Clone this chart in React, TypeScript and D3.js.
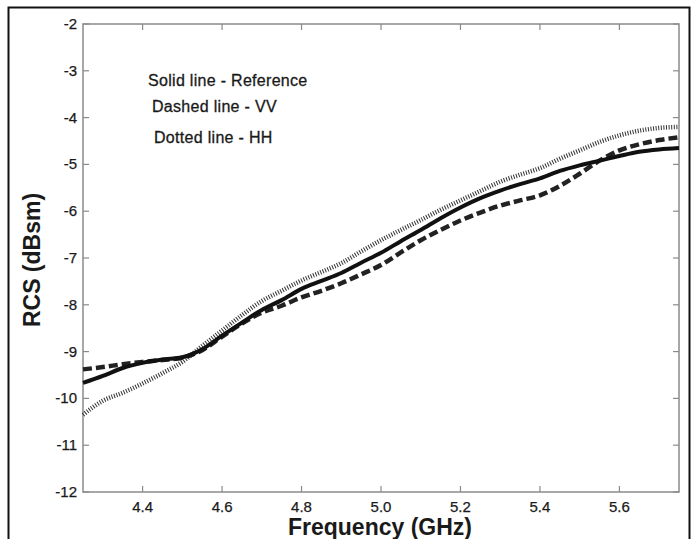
import React, { useEffect, useRef } from "react";
import * as d3 from "d3";

const freqs = [4.25, 4.3, 4.35, 4.4, 4.45, 4.5, 4.55, 4.6, 4.65, 4.7, 4.75, 4.8, 4.85, 4.9, 4.95, 5.0, 5.05, 5.1, 5.15, 5.2, 5.25, 5.3, 5.35, 5.4, 5.45, 5.5, 5.55, 5.6, 5.65, 5.7, 5.75];
const reference = [-9.67, -9.52, -9.35, -9.24, -9.17, -9.12, -8.95, -8.66, -8.38, -8.11, -7.9, -7.66, -7.49, -7.32, -7.1, -6.89, -6.64, -6.4, -6.15, -5.92, -5.72, -5.56, -5.42, -5.3, -5.14, -5.02, -4.92, -4.82, -4.73, -4.68, -4.65];
const vv = [-9.38, -9.33, -9.27, -9.22, -9.18, -9.13, -8.97, -8.68, -8.4, -8.17, -8.02, -7.84, -7.7, -7.54, -7.35, -7.15, -6.88, -6.62, -6.4, -6.2, -6.03, -5.88, -5.77, -5.66, -5.46, -5.2, -4.92, -4.7, -4.57, -4.48, -4.42];
const hh = [-10.35, -10.05, -9.88, -9.68, -9.46, -9.22, -8.88, -8.55, -8.22, -7.92, -7.7, -7.48, -7.3, -7.11, -6.86, -6.62, -6.4, -6.19, -5.97, -5.77, -5.57, -5.37, -5.22, -5.08, -4.88, -4.7, -4.52, -4.38, -4.28, -4.22, -4.2];
const xTicks = [4.4, 4.6, 4.8, 5.0, 5.2, 5.4, 5.6];
const yTicks = [-2, -3, -4, -5, -6, -7, -8, -9, -10, -11, -12];
const legendLines = ["Solid line - Reference", "Dashed line - VV", "Dotted line - HH"];

const W = 694, H = 539;
const L = 83, R = 679, T = 24, B = 492;

export default function App() {
  const ref = useRef<SVGSVGElement>(null);
  useEffect(() => {
    const svg = d3.select(ref.current);
    svg.selectAll("*").remove();
    const x = d3.scaleLinear().domain([4.25, 5.75]).range([L, R]);
    const y = d3.scaleLinear().domain([-12, -2]).range([B, T]);
    const font = "'Liberation Sans', Arial, sans-serif";

    svg.append("rect").attr("width", W).attr("height", H).attr("fill", "#fff");
    // outer frame
    svg.append("rect").attr("x", 8.5).attr("y", 7.5).attr("width", 681).attr("height", 560)
      .attr("fill", "none").attr("stroke", "#111").attr("stroke-width", 2);

    const axisColor = "#8a8a8a";
    const g = svg.append("g");
    xTicks.forEach(t => {
      g.append("line").attr("x1", x(t)).attr("x2", x(t)).attr("y1", B).attr("y2", B - 6).attr("stroke", axisColor).attr("stroke-width", 1.2);
      g.append("line").attr("x1", x(t)).attr("x2", x(t)).attr("y1", T).attr("y2", T + 6).attr("stroke", axisColor).attr("stroke-width", 1.2);
      g.append("text").attr("x", x(t)).attr("y", B + 20).attr("text-anchor", "middle")
        .attr("font-family", font).attr("font-size", 15).attr("fill", "#1a1a1a")
        .attr("stroke", "#1a1a1a").attr("stroke-width", 0.25).text(d3.format(".1f")(t));
    });
    yTicks.forEach(t => {
      g.append("line").attr("x1", L).attr("x2", L + 6).attr("y1", y(t)).attr("y2", y(t)).attr("stroke", axisColor).attr("stroke-width", 1.2);
      g.append("line").attr("x1", R).attr("x2", R - 6).attr("y1", y(t)).attr("y2", y(t)).attr("stroke", axisColor).attr("stroke-width", 1.2);
      g.append("text").attr("x", L - 6).attr("y", y(t) + 5).attr("text-anchor", "end")
        .attr("font-family", font).attr("font-size", 15).attr("fill", "#1a1a1a")
        .attr("stroke", "#1a1a1a").attr("stroke-width", 0.25).text(String(t));
    });
    g.append("rect").attr("x", L).attr("y", T).attr("width", R - L).attr("height", B - T)
      .attr("fill", "none").attr("stroke", axisColor).attr("stroke-width", 1.5);

    const line = d3.line<number>().x((_, i) => x(freqs[i])).y(d => y(d)).curve(d3.curveMonotoneX);
    svg.append("path").attr("d", line(hh)!).attr("fill", "none").attr("stroke", "#333")
      .attr("stroke-width", 4.5).attr("stroke-dasharray", "1,1.6");
    svg.append("path").attr("d", line(vv)!).attr("fill", "none").attr("stroke", "#222")
      .attr("stroke-width", 4.5).attr("stroke-dasharray", "9,4");
    svg.append("path").attr("d", line(reference)!).attr("fill", "none").attr("stroke", "#111")
      .attr("stroke-width", 4);

    const lx = [148, 152, 154];
    const ly = [86, 112, 143];
    legendLines.forEach((s, i) => {
      svg.append("text").attr("x", lx[i]).attr("y", ly[i]).attr("font-family", font)
        .attr("font-size", 16).attr("letter-spacing", 0.3).attr("fill", "#1a1a1a")
        .attr("stroke", "#1a1a1a").attr("stroke-width", 0.3).text(s);
    });

    svg.append("text").attr("x", 380).attr("y", 535).attr("text-anchor", "middle")
      .attr("font-family", font).attr("font-size", 23).attr("font-weight", "bold").attr("fill", "#1a1a1a")
      .text("Frequency (GHz)");
    svg.append("text").attr("transform", "translate(40,260) rotate(-90)").attr("text-anchor", "middle")
      .attr("font-family", font).attr("font-size", 23).attr("font-weight", "bold").attr("fill", "#1a1a1a")
      .text("RCS (dBsm)");
  }, []);
  return (
    <svg ref={ref} width={W} height={H} style={{ position: "absolute", left: 0, top: 0, display: "block" }} />
  );
}
